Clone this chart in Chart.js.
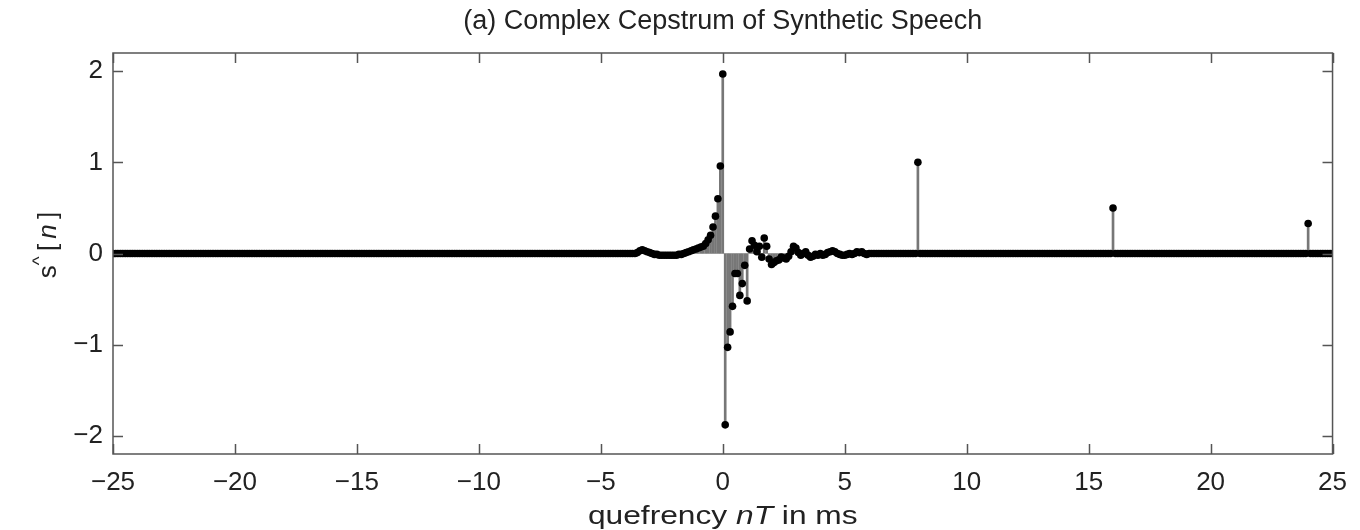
<!DOCTYPE html>
<html>
<head>
<meta charset="utf-8">
<title>Complex Cepstrum of Synthetic Speech</title>
<script src="https://cdn.jsdelivr.net/npm/chart.js@4.4.1/dist/chart.umd.min.js"></script>
<style>
  html, body { margin: 0; padding: 0; background: #fff; }
  #wrap { width: 1360px; height: 530px; }
</style>
</head>
<body>
<div id="wrap"><canvas id="cepstrumChart" width="1360" height="530"></canvas></div>
<script>
// sample grid: n = -250 .. 250, 0.1 ms per sample
const firstQuefrency = -25;
const samplePeriod = 0.1;

// s^[n], 25 samples per row
const sHat = [
  0, 0, 0, 0, 0, 0, 0, 0, 0, 0, 0, 0, 0, 0, 0, 0, 0, 0, 0, 0, 0, 0, 0, 0, 0,   // -25.0 ms
  0, 0, 0, 0, 0, 0, 0, 0, 0, 0, 0, 0, 0, 0, 0, 0, 0, 0, 0, 0, 0, 0, 0, 0, 0,   // -22.5
  0, 0, 0, 0, 0, 0, 0, 0, 0, 0, 0, 0, 0, 0, 0, 0, 0, 0, 0, 0, 0, 0, 0, 0, 0,   // -20.0
  0, 0, 0, 0, 0, 0, 0, 0, 0, 0, 0, 0, 0, 0, 0, 0, 0, 0, 0, 0, 0, 0, 0, 0, 0,   // -17.5
  0, 0, 0, 0, 0, 0, 0, 0, 0, 0, 0, 0, 0, 0, 0, 0, 0, 0, 0, 0, 0, 0, 0, 0, 0,   // -15.0
  0, 0, 0, 0, 0, 0, 0, 0, 0, 0, 0, 0, 0, 0, 0, 0, 0, 0, 0, 0, 0, 0, 0, 0, 0,   // -12.5
  0, 0, 0, 0, 0, 0, 0, 0, 0, 0, 0, 0, 0, 0, 0, 0, 0, 0, 0, 0, 0, 0, 0, 0, 0,   // -10.0
  0, 0, 0, 0, 0, 0, 0, 0, 0, 0, 0, 0, 0, 0, 0, 0, 0, 0, 0, 0, 0, 0, 0, 0, 0,   // -7.5
  0, 0, 0, 0, 0, 0, 0, 0, 0, 0, 0, 0, 0, 0, 0, 0.01, 0.03, 0.04, 0.03, 0.02, 0.01, 0, -0.01, -0.01, -0.02,   // -5.0
  -0.02, -0.02, -0.02, -0.02, -0.02, -0.02, -0.02, -0.01, -0.01, 0, 0.01, 0.02, 0.03, 0.04, 0.05, 0.06, 0.07, 0.08, 0.11, 0.15, 0.2, 0.29, 0.41, 0.6, 0.96,   // -2.5
  1.97, -1.88, -1.03, -0.86, -0.58, -0.22, -0.22, -0.46, -0.33, -0.13, -0.52, 0.05, 0.14, 0.09, 0.02, 0.08, -0.04, 0.17, 0.08, -0.06, -0.12, -0.1, -0.08, -0.07, -0.04,   // 0.0
  -0.05, -0.06, -0.03, 0.02, 0.08, 0.06, 0.01, -0.02, 0, 0.02, -0.02, -0.04, -0.03, -0.01, -0.02, 0, -0.02, -0.01, 0.01, 0.02, 0.03, 0.02, 0, -0.01, -0.02,   // 2.5
  -0.02, -0.01, 0, -0.01, 0, 0.02, 0.01, 0.02, 0, -0.01, 0, 0, 0, 0, 0, 0, 0, 0, 0, 0, 0, 0, 0, 0, 0,   // 5.0
  0, 0, 0, 0, 0, 1.0, 0, 0, 0, 0, 0, 0, 0, 0, 0, 0, 0, 0, 0, 0, 0, 0, 0, 0, 0,   // 7.5
  0, 0, 0, 0, 0, 0, 0, 0, 0, 0, 0, 0, 0, 0, 0, 0, 0, 0, 0, 0, 0, 0, 0, 0, 0,   // 10.0
  0, 0, 0, 0, 0, 0, 0, 0, 0, 0, 0, 0, 0, 0, 0, 0, 0, 0, 0, 0, 0, 0, 0, 0, 0,   // 12.5
  0, 0, 0, 0, 0, 0, 0, 0, 0, 0, 0.5, 0, 0, 0, 0, 0, 0, 0, 0, 0, 0, 0, 0, 0, 0,   // 15.0
  0, 0, 0, 0, 0, 0, 0, 0, 0, 0, 0, 0, 0, 0, 0, 0, 0, 0, 0, 0, 0, 0, 0, 0, 0,   // 17.5
  0, 0, 0, 0, 0, 0, 0, 0, 0, 0, 0, 0, 0, 0, 0, 0, 0, 0, 0, 0, 0, 0, 0, 0, 0,   // 20.0
  0, 0, 0, 0, 0, 0, 0, 0, 0, 0, 0, 0, 0, 0, 0, 0.33, 0, 0, 0, 0, 0, 0, 0, 0, 0,   // 22.5
  0                                                                                // 25.0
];

const xTicks = [-25, -20, -15, -10, -5, 0, 5, 10, 15, 20, 25];
const yTicks = [-2, -1, 0, 1, 2];

const FONT = "'Liberation Sans', Arial, Helvetica, sans-serif";
const TEXT_COLOR = '#222';
const FRAME_COLOR = '#555';
const TICK_LEN = 10;

const points = sHat.map((v, i) => ({ x: firstQuefrency + i * samplePeriod, y: v }));

function fmtTick(v) {
    return v < 0 ? '\u2212' + Math.abs(v) : String(v);
}

// draw a list of [text, font, dy] pieces centred on (0, 0) of the current transform
function drawRuns(ctx, runs) {
    let total = 0;
    runs.forEach(r => { ctx.font = r[1]; total += ctx.measureText(r[0]).width; });
    let x = -total / 2;
    runs.forEach(r => {
        ctx.font = r[1];
        ctx.fillText(r[0], x, r[2] || 0);
        x += ctx.measureText(r[0]).width;
    });
}

// 🔹 Cadre, graduations intérieures et titres d'axes
const framePlugin = {
    id: 'framePlugin',
    afterDatasetsDraw(chart) {
        const { ctx, chartArea: a, scales } = chart;
        const xs = scales.x, ys = scales.y;
        ctx.save();
        ctx.strokeStyle = FRAME_COLOR;
        ctx.lineWidth = 1.5;
        ctx.beginPath();
        xTicks.forEach(v => {
            const px = Math.round(xs.getPixelForValue(v)) + 0.5;
            ctx.moveTo(px, a.bottom); ctx.lineTo(px, a.bottom - TICK_LEN);
            ctx.moveTo(px, a.top); ctx.lineTo(px, a.top + TICK_LEN);
        });
        yTicks.forEach(v => {
            const py = Math.round(ys.getPixelForValue(v)) + 0.5;
            ctx.moveTo(a.left, py); ctx.lineTo(a.left + TICK_LEN, py);
            ctx.moveTo(a.right, py); ctx.lineTo(a.right - TICK_LEN, py);
        });
        ctx.stroke();
        ctx.strokeRect(a.left, a.top, a.right - a.left, a.bottom - a.top);

        ctx.fillStyle = TEXT_COLOR;
        ctx.textBaseline = 'alphabetic';
        ctx.textAlign = 'left';
        const normal = '26px ' + FONT;
        const italic = 'italic 26px ' + FONT;

        // x title (the figure's lettering is a bit wider than the font)
        ctx.save();
        ctx.translate((a.left + a.right) / 2, 524);
        ctx.scale(1.22, 1);
        drawRuns(ctx, [
            ['quefrency ', normal],
            ['nT', italic],
            [' in ms', normal]
        ]);
        ctx.restore();

        // y title, rotated
        ctx.translate(56, 245);
        ctx.rotate(-Math.PI / 2);
        drawRuns(ctx, [
            ['s', normal],
            ['^', '19px ' + FONT, -11],
            ['\u2009[\u2009', normal],
            ['n', italic],
            ['\u2009]', normal]
        ]);
        ctx.restore();
    }
};

const chart = new Chart(document.getElementById('cepstrumChart'), {
    type: 'scatter',
    data: {
        datasets: [
            {
                type: 'bar',
                data: points,
                backgroundColor: '#777',
                borderWidth: 0,
                barThickness: 2,
                grouped: false,
                order: 2
            },
            {
                type: 'scatter',
                data: points,
                pointRadius: 3.8,
                pointBackgroundColor: '#000',
                pointBorderWidth: 0,
                showLine: false,
                order: 1
            }
        ]
    },
    options: {
        responsive: false,
        devicePixelRatio: 1,
        animation: false,
        layout: { padding: { left: 0, right: 22, top: 0, bottom: 0 } },
        plugins: {
            legend: { display: false },
            tooltip: { enabled: false },
            title: {
                display: true,
                text: '(a) Complex Cepstrum of Synthetic Speech',
                color: TEXT_COLOR,
                fullSize: false,
                font: { family: FONT, size: 27, weight: 'normal' },
                padding: { top: 5, bottom: 15.6 }
            }
        },
        scales: {
            x: {
                type: 'linear',
                min: -25,
                max: 25,
                offset: false,
                grid: { display: false, drawTicks: false },
                border: { display: false },
                afterBuildTicks: axis => { axis.ticks = xTicks.map(v => ({ value: v })); },
                afterFit: axis => { axis.height = 76; },
                ticks: {
                    color: TEXT_COLOR,
                    font: { family: FONT, size: 26 },
                    padding: 13,
                    maxRotation: 0,
                    autoSkip: false,
                    callback: v => fmtTick(v)
                }
            },
            y: {
                type: 'linear',
                min: -2.2,
                max: 2.2,
                grid: { display: false, drawTicks: false },
                border: { display: false },
                afterBuildTicks: axis => { axis.ticks = yTicks.map(v => ({ value: v })); },
                afterFit: axis => { axis.width = 113; },
                ticks: {
                    color: TEXT_COLOR,
                    font: { family: FONT, size: 26 },
                    padding: 10,
                    callback: v => fmtTick(v)
                }
            }
        }
    },
    plugins: [framePlugin]
});
</script>
</body>
</html>
